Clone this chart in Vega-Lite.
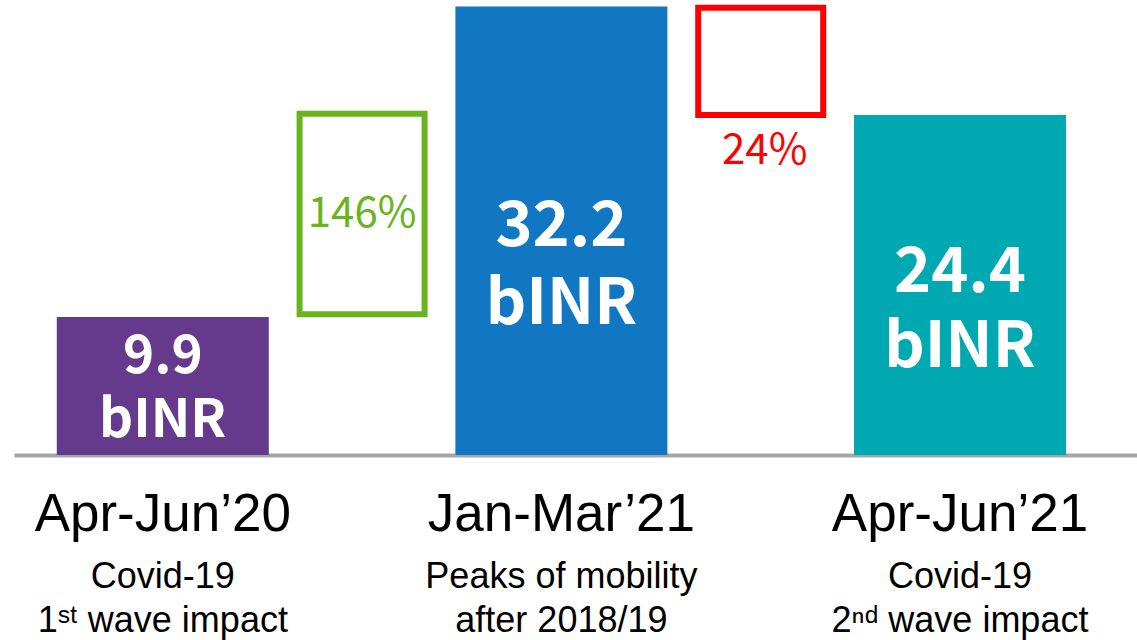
{
  "$schema": "https://vega.github.io/schema/vega-lite/v6.json",
  "width": 1123,
  "height": 455,
  "padding": {"left": 14, "top": 0, "right": 0, "bottom": 185},
  "autosize": {"type": "none"},
  "background": "white",
  "config": {"view": {"stroke": null}},
  "datasets": {
    "periods": [
      {"period": "Apr-Jun’20", "value": 9.9, "note": "Covid-19\n1ˢᵗ wave impact"},
      {"period": "Jan-Mar’21", "value": 32.2, "note": "Peaks of mobility\nafter 2018/19"},
      {"period": "Apr-Jun’21", "value": 24.4, "note": "Covid-19\n2ⁿᵈ wave impact"}
    ],
    "changes": [
      {"slot": " ", "from": 10.1, "to": 24.5, "change": "146%"},
      {"slot": "  ", "from": 24.4, "to": 32.1, "change": "24%"}
    ]
  },
  "layer": [
    {
      "data": {"name": "periods"},
      "mark": {"type": "bar", "width": 212},
      "encoding": {
        "x": {
          "field": "period", "type": "nominal", "sort": null,
          "scale": {"domain": ["Apr-Jun’20", " ", "Jan-Mar’21", "  ", "Apr-Jun’21"], "paddingInner": 0, "paddingOuter": 0.3173, "align": 0.3885},
          "axis": {"title": null, "domain": true, "domainColor": "#A6A6A6", "domainWidth": 4, "ticks": false, "labelAngle": 0, "labelFont": "Liberation Sans", "labelFontSize": 53, "labelColor": "#000000", "labelBaseline": "alphabetic", "labelPadding": 75, "labelOverlap": false, "labelBound": false, "labelFlush": false, "labelLimit": 0}
        },
        "y": {"field": "value", "type": "quantitative", "scale": {"domain": [0, 32.66], "nice": false, "zero": true}, "axis": null},
        "color": {"field": "period", "type": "nominal", "scale": {"domain": ["Apr-Jun’20", "Jan-Mar’21", "Apr-Jun’21"], "range": ["#65398B", "#1177C3", "#00A9B1"]}, "legend": null}
      }
    },
    {
      "data": {"name": "changes"},
      "mark": {"type": "bar", "width": 125, "fill": "white", "strokeWidth": 6},
      "encoding": {
        "x": {"field": "slot", "type": "nominal", "sort": null},
        "y": {"field": "to", "type": "quantitative"},
        "y2": {"field": "from"},
        "stroke": {"field": "change", "type": "nominal", "scale": {"domain": ["146%", "24%"], "range": ["#68B41C", "#FF0000"]}, "legend": null}
      }
    },
    {
      "data": {"name": "changes"},
      "transform": [{"filter": "datum.change == '146%'"}],
      "mark": {"type": "text", "font": "Noto Sans CJK JP", "fontSize": 42, "color": "#68B41C", "baseline": "alphabetic", "align": "center", "dy": 113},
      "encoding": {
        "x": {"field": "slot", "type": "nominal", "sort": null},
        "y": {"field": "to", "type": "quantitative"},
        "text": {"field": "change"}
      }
    },
    {
      "data": {"name": "changes"},
      "transform": [{"filter": "datum.change == '24%'"}],
      "mark": {"type": "text", "font": "Noto Sans CJK JP", "fontSize": 42, "color": "#FF0000", "baseline": "alphabetic", "align": "center", "dy": 49, "dx": 4},
      "encoding": {
        "x": {"field": "slot", "type": "nominal", "sort": null},
        "y": {"field": "from", "type": "quantitative"},
        "text": {"field": "change"}
      }
    },
    {
      "data": {"name": "periods"},
      "transform": [{"filter": "datum.period == 'Apr-Jun’20'"}, {"calculate": "format(datum.value, '.1f') + '\\nbINR'", "as": "label"}],
      "mark": {"type": "text", "font": "Noto Sans CJK JP", "fontWeight": "bold", "fontSize": 53, "lineHeight": 64, "lineBreak": "\n", "color": "white", "baseline": "alphabetic", "align": "center", "dy": 56},
      "encoding": {
        "x": {"field": "period", "type": "nominal", "sort": null},
        "y": {"field": "value", "type": "quantitative"},
        "text": {"field": "label"}
      }
    },
    {
      "data": {"name": "periods"},
      "transform": [{"filter": "datum.period == 'Jan-Mar’21'"}, {"calculate": "format(datum.value, '.1f') + '\\nbINR'", "as": "label"}],
      "mark": {"type": "text", "font": "Noto Sans CJK JP", "fontWeight": "bold", "fontSize": 63, "lineHeight": 78, "lineBreak": "\n", "color": "white", "baseline": "alphabetic", "align": "center", "dy": 240},
      "encoding": {
        "x": {"field": "period", "type": "nominal", "sort": null},
        "y": {"field": "value", "type": "quantitative"},
        "text": {"field": "label"}
      }
    },
    {
      "data": {"name": "periods"},
      "transform": [{"filter": "datum.period == 'Apr-Jun’21'"}, {"calculate": "format(datum.value, '.1f') + '\\nbINR'", "as": "label"}],
      "mark": {"type": "text", "font": "Noto Sans CJK JP", "fontWeight": "bold", "fontSize": 63, "lineHeight": 75, "lineBreak": "\n", "color": "white", "baseline": "alphabetic", "align": "center", "dy": 177},
      "encoding": {
        "x": {"field": "period", "type": "nominal", "sort": null},
        "y": {"field": "value", "type": "quantitative"},
        "text": {"field": "label"}
      }
    },
    {
      "data": {"name": "periods"},
      "mark": {"type": "text", "font": "Liberation Sans", "fontSize": 36, "lineHeight": 44, "lineBreak": "\n", "color": "#000000", "baseline": "alphabetic", "align": "center", "dy": 133},
      "encoding": {
        "x": {"field": "period", "type": "nominal", "sort": null},
        "y": {"datum": 0, "type": "quantitative"},
        "text": {"field": "note"}
      }
    }
  ]
}
